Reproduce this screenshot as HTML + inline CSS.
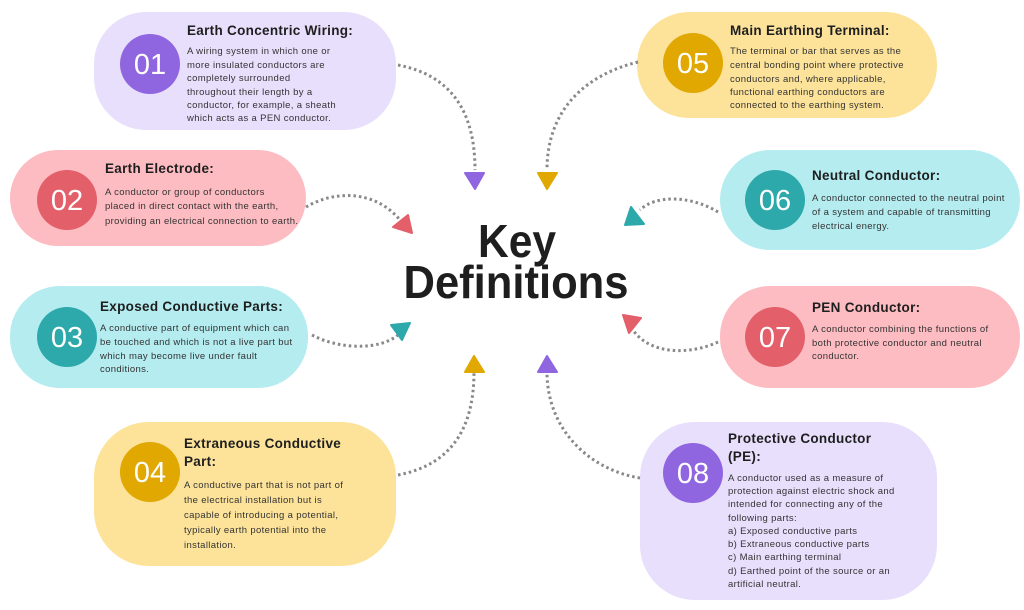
<!DOCTYPE html>
<html><head><meta charset="utf-8"><style>
body{margin:0;background:#fff;}
svg{display:block;font-family:"Liberation Sans",sans-serif;}
.t{font-weight:bold;font-size:13.5px;fill:#1e1e1e;letter-spacing:0.3px;}
.b{font-size:9.5px;fill:#333;letter-spacing:0.35px;}
.n{font-size:29px;fill:#fff;}
.d{fill:none;stroke:#888;stroke-width:3;stroke-dasharray:2.5 3;}
</style></head><body>
<svg width="1024" height="610" viewBox="0 0 1024 610">
<rect x="94" y="12" width="302" height="118" rx="52" fill="#e8dffc"/>
<rect x="10" y="150" width="296" height="96" rx="48" fill="#fdbcc2"/>
<rect x="10" y="286" width="298" height="102" rx="50" fill="#b4ecf0"/>
<rect x="94" y="422" width="302" height="144" rx="55" fill="#fde39a"/>
<rect x="637" y="12" width="300" height="106" rx="52" fill="#fde39a"/>
<rect x="720" y="150" width="300" height="100" rx="50" fill="#b4ecf0"/>
<rect x="720" y="286" width="300" height="102" rx="50" fill="#fdbcc2"/>
<rect x="640" y="422" width="297" height="178" rx="55" fill="#e8dffc"/>
<circle cx="150" cy="64" r="30" fill="#9066e0"/><text class="n" x="150" y="74" text-anchor="middle">01</text>
<circle cx="67" cy="200" r="30" fill="#e35f6a"/><text class="n" x="67" y="210" text-anchor="middle">02</text>
<circle cx="67" cy="337" r="30" fill="#2ea9ab"/><text class="n" x="67" y="347" text-anchor="middle">03</text>
<circle cx="150" cy="472" r="30" fill="#e0a800"/><text class="n" x="150" y="482" text-anchor="middle">04</text>
<circle cx="693" cy="63" r="30" fill="#e0a800"/><text class="n" x="693" y="73" text-anchor="middle">05</text>
<circle cx="775" cy="200" r="30" fill="#2ea9ab"/><text class="n" x="775" y="210" text-anchor="middle">06</text>
<circle cx="775" cy="337" r="30" fill="#e35f6a"/><text class="n" x="775" y="347" text-anchor="middle">07</text>
<circle cx="693" cy="473" r="30" fill="#9066e0"/><text class="n" x="693" y="483" text-anchor="middle">08</text>
<text class="t" x="187" y="35">Earth Concentric Wiring:</text>
<g class="b"><text x="187" y="54">A wiring system in which one or</text><text x="187" y="68">more insulated conductors are</text><text x="187" y="81">completely surrounded</text><text x="187" y="95">throughout their length by a</text><text x="187" y="108">conductor, for example, a sheath</text><text x="187" y="121">which acts as a PEN conductor.</text></g>
<text class="t" x="105" y="173">Earth Electrode:</text>
<g class="b"><text x="105" y="195">A conductor or group of conductors</text><text x="105" y="209">placed in direct contact with the earth,</text><text x="105" y="224">providing an electrical connection to earth.</text></g>
<text class="t" x="100" y="311">Exposed Conductive Parts:</text>
<g class="b"><text x="100" y="331">A conductive part of equipment which can</text><text x="100" y="345">be touched and which is not a live part but</text><text x="100" y="359">which may become live under fault</text><text x="100" y="372">conditions.</text></g>
<text class="t" x="184" y="448">Extraneous Conductive</text><text class="t" x="184" y="466">Part:</text>
<g class="b"><text x="184" y="488">A conductive part that is not part of</text><text x="184" y="503">the electrical installation but is</text><text x="184" y="518">capable of introducing a potential,</text><text x="184" y="533">typically earth potential into the</text><text x="184" y="548">installation.</text></g>
<text class="t" x="730" y="35">Main Earthing Terminal:</text>
<g class="b"><text x="730" y="54">The terminal or bar that serves as the</text><text x="730" y="68">central bonding point where protective</text><text x="730" y="82">conductors and, where applicable,</text><text x="730" y="95">functional earthing conductors are</text><text x="730" y="108">connected to the earthing system.</text></g>
<text class="t" x="812" y="180">Neutral Conductor:</text>
<g class="b"><text x="812" y="201">A conductor connected to the neutral point</text><text x="812" y="215">of a system and capable of transmitting</text><text x="812" y="229">electrical energy.</text></g>
<text class="t" x="812" y="312">PEN Conductor:</text>
<g class="b"><text x="812" y="332">A conductor combining the functions of</text><text x="812" y="346">both protective conductor and neutral</text><text x="812" y="359">conductor.</text></g>
<text class="t" x="728" y="443">Protective Conductor</text><text class="t" x="728" y="461">(PE):</text>
<g class="b"><text x="728" y="481">A conductor used as a measure of</text><text x="728" y="494">protection against electric shock and</text><text x="728" y="507">intended for connecting any of the</text><text x="728" y="521">following parts:</text><text x="728" y="534">a) Exposed conductive parts</text><text x="728" y="547">b) Extraneous conductive parts</text><text x="728" y="560">c) Main earthing terminal</text><text x="728" y="574">d) Earthed point of the source or an</text><text x="728" y="587">artificial neutral.</text></g>
<text x="517" y="257" text-anchor="middle" font-size="46" font-weight="bold" fill="#1e1e1e" textLength="78" lengthAdjust="spacingAndGlyphs">Key</text>
<text x="516" y="298" text-anchor="middle" font-size="46" font-weight="bold" fill="#1e1e1e" textLength="225" lengthAdjust="spacingAndGlyphs">Definitions</text>
<path class="d" d="M398 65 C450 75 475 110 475 170"/>
<path class="d" d="M638 62 C585 75 547 110 547 170"/>
<path class="d" d="M306 207 C335 190 375 190 400 220"/>
<path class="d" d="M312 335 C340 350 380 350 398 335"/>
<path class="d" d="M398 475 C450 465 474 430 474 372"/>
<path class="d" d="M640 478 C590 470 547 430 547 372"/>
<path class="d" d="M718 212 C690 195 655 195 640 210"/>
<path class="d" d="M718 342 C690 355 650 355 633 330"/>
<path d="M465 173 L484 173 L475 189 Z" fill="#9066e0" stroke="#9066e0" stroke-width="2" stroke-linejoin="round"/>
<path d="M538 173 L557 173 L547 189 Z" fill="#e0a800" stroke="#e0a800" stroke-width="2" stroke-linejoin="round"/>
<path d="M465 372 L484 372 L474 356 Z" fill="#e0a800" stroke="#e0a800" stroke-width="2" stroke-linejoin="round"/>
<path d="M538 372 L557 372 L547 356 Z" fill="#9066e0" stroke="#9066e0" stroke-width="2" stroke-linejoin="round"/>
<path d="M393 227 L408 215 L412 233 Z" fill="#e35f6a" stroke="#e35f6a" stroke-width="2" stroke-linejoin="round"/>
<path d="M391 325 L410 323 L402 340 Z" fill="#2ea9ab" stroke="#2ea9ab" stroke-width="2" stroke-linejoin="round"/>
<path d="M631 207 L644 224 L625 225 Z" fill="#2ea9ab" stroke="#2ea9ab" stroke-width="2" stroke-linejoin="round"/>
<path d="M623 315 L641 318 L629 333 Z" fill="#e35f6a" stroke="#e35f6a" stroke-width="2" stroke-linejoin="round"/>
</svg>
</body></html>
